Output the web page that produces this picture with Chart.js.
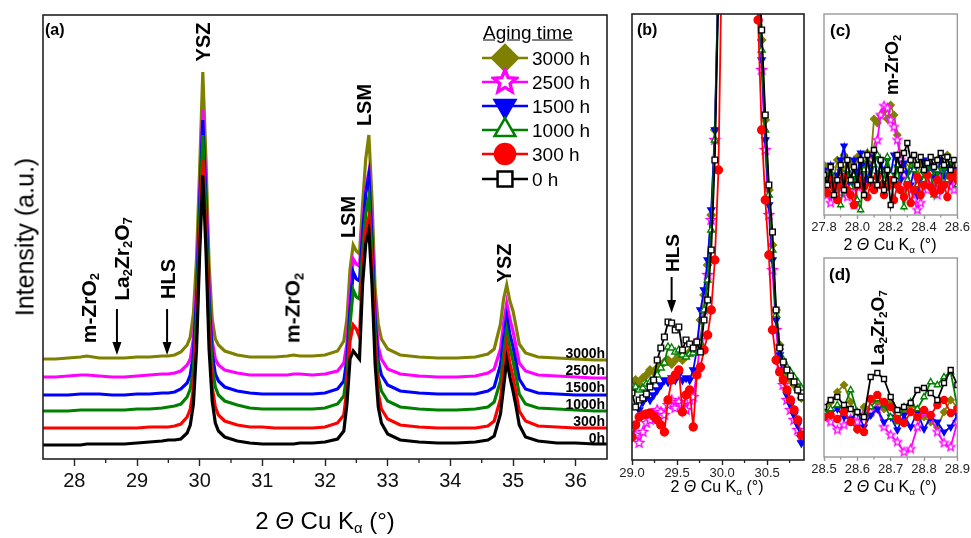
<!DOCTYPE html>
<html>
<head>
<meta charset="utf-8">
<title>XRD patterns vs aging time</title>
<script src="https://cdn.jsdelivr.net/npm/chart.js@4.4.1/dist/chart.umd.min.js"></script>
<style>
  body { margin: 0; background: #fff; }
  #wrap { position: relative; width: 971px; height: 538px; overflow: hidden; font-family: "Liberation Sans", Arial, sans-serif; color: #000; }
  #wrap canvas { position: absolute; }
  .t { position: absolute; white-space: nowrap; line-height: 1; }
  .rot { transform: translate(-50%, -50%) rotate(-90deg); }
  .ctr { transform: translate(-50%, -50%); }
  .rgt { transform: translate(-100%, -50%); }
  .lft { transform: translate(0, -50%); }
  .b { font-weight: bold; }
  sub { font-size: 0.62em; vertical-align: -0.3em; line-height: 0; }
</style>
</head>
<body>
<div id="wrap">
  <canvas id="cA" width="615" height="538" style="left:0;top:0"></canvas>
  <canvas id="cB" width="200" height="538" style="left:612px;top:0"></canvas>
  <canvas id="cC" width="171" height="258" style="left:800px;top:0"></canvas>
  <canvas id="cD" width="171" height="288" style="left:800px;top:250px"></canvas>
</div>
<script>
Chart.defaults.font.family = '"Liberation Sans", Arial, sans-serif';
Chart.defaults.color = '#111';

const NAMES = ['3000 h', '2500 h', '1500 h', '1000 h', '300 h', '0 h'];
const TAGS = ['3000h', '2500h', '1500h', '1000h', '300h', '0h'];

// (a) full patterns, traces offset upward with aging time
const X_A = [27.5, 27.7, 27.9, 28.1, 28.2, 28.4, 28.6, 28.8, 29.0, 29.2,
  29.4, 29.5, 29.6, 29.7, 29.8, 29.85, 29.9, 29.95, 30.0, 30.05,
  30.1, 30.15, 30.2, 30.25, 30.3, 30.4, 30.6, 30.8, 31.0, 31.2,
  31.4, 31.5, 31.6, 31.8, 32.0, 32.2, 32.3, 32.35, 32.4, 32.45,
  32.5, 32.55, 32.6, 32.65, 32.7, 32.75, 32.8, 32.85, 32.9, 33.0,
  33.2, 33.5, 33.8, 34.1, 34.4, 34.6, 34.7, 34.8, 34.85, 34.9,
  34.95, 35.0, 35.05, 35.1, 35.2, 35.4, 35.7, 36.0, 36.3, 36.5];
const A_3000 = [100, 100, 101, 102, 103, 101, 101, 101, 102, 102,
  103, 103, 104, 107, 114, 122, 145, 200, 290, 387,
  300, 195, 140, 120, 114, 108, 104, 102, 102, 102,
  103, 104, 103, 103, 104, 108, 118, 140, 190, 214,
  208, 205, 255, 300, 324, 260, 170, 135, 120, 110,
  104, 102, 101, 101, 102, 105, 110, 135, 160, 174,
  158, 148, 132, 115, 106, 102, 101, 100, 99, 99];
const A_2500 = [82, 82, 83, 84, 84, 83, 82, 82, 83, 84,
  85, 85, 86, 88, 94, 100, 120, 170, 260, 349,
  270, 170, 118, 100, 94, 89, 86, 84, 84, 84,
  84, 85, 85, 84, 85, 88, 96, 115, 165, 200,
  195, 193, 235, 270, 287, 230, 150, 112, 100, 90,
  85, 83, 82, 82, 83, 86, 90, 110, 135, 156,
  140, 128, 112, 96, 88, 84, 83, 82, 81, 81];
const A_1500 = [64, 64, 64, 65, 65, 65, 64, 64, 65, 65,
  66, 66, 67, 70, 76, 84, 105, 160, 255, 339,
  260, 160, 105, 85, 78, 72, 68, 66, 65, 65,
  65, 65, 65, 65, 66, 70, 78, 100, 150, 187,
  180, 178, 225, 265, 284, 220, 140, 98, 84, 74,
  68, 66, 65, 65, 65, 68, 72, 94, 120, 142,
  125, 112, 96, 80, 70, 66, 65, 64, 64, 64];
const A_1000 = [48, 48, 48, 49, 49, 49, 49, 49, 50, 50,
  51, 52, 53, 55, 62, 70, 90, 145, 240, 324,
  245, 145, 92, 72, 64, 58, 54, 51, 50, 50,
  50, 50, 50, 50, 51, 55, 63, 85, 135, 169,
  162, 160, 210, 245, 262, 205, 125, 82, 68, 58,
  52, 50, 49, 49, 50, 52, 57, 78, 105, 129,
  112, 98, 82, 65, 55, 51, 50, 49, 48, 48];
const A_300 = [31, 31, 31, 31, 31, 31, 31, 31, 31, 32,
  32, 32, 33, 35, 42, 50, 70, 125, 220, 299,
  225, 125, 72, 52, 44, 38, 34, 32, 32, 31,
  31, 31, 31, 31, 32, 36, 44, 70, 118, 134,
  130, 122, 190, 228, 242, 190, 110, 66, 50, 40,
  34, 32, 31, 31, 31, 33, 38, 60, 88, 114,
  96, 82, 66, 48, 38, 33, 32, 31, 31, 31];
const A_0 = [14, 14, 14, 14, 15, 15, 15, 15, 16, 17,
  18, 19, 19, 20, 26, 34, 55, 110, 205, 284,
  210, 110, 58, 36, 28, 22, 18, 16, 15, 15,
  15, 15, 16, 16, 17, 20, 28, 55, 100, 108,
  104, 100, 175, 215, 229, 175, 95, 52, 36, 25,
  19, 17, 16, 16, 17, 19, 23, 45, 72, 99,
  82, 68, 52, 34, 22, 18, 16, 16, 15, 15];

// (b) zoom on the YSZ foot, traces not offset
const X_B = [29.00, 29.04, 29.08, 29.12, 29.16, 29.20, 29.24, 29.28, 29.32, 29.36,
  29.40, 29.44, 29.48, 29.52, 29.56, 29.60, 29.64, 29.68, 29.72, 29.76,
  29.80, 29.84, 29.88, 29.92, 29.96, 30.00, 30.10, 30.20, 30.30, 30.40,
  30.44, 30.48, 30.52, 30.56, 30.60, 30.64, 30.68, 30.72, 30.76, 30.80,
  30.84, 30.88];
const B_3000 = [70, 80, 75, 82, 85, 90, 88, 92, 95, 98,
  100, 96, 100, 105, 100, 104, 108, 110, 118, 140,
  165, 195, 245, 330, 490, 900, 2600, 2600, 900, 510,
  420, 340, 270, 215, 150, 115, 95, 85, 80, 75,
  70, 62];
const B_2500 = [30, 25, 17, 28, 37, 40, 45, 50, 48, 45,
  55, 60, 52, 58, 55, 50, 60, 63, 87, 120,
  150, 185, 240, 320, 480, 900, 2600, 2600, 900, 470,
  390, 310, 245, 190, 130, 95, 75, 60, 50, 40,
  30, 23];
const B_1500 = [23, 35, 50, 58, 63, 60, 65, 70, 75, 80,
  78, 82, 80, 85, 80, 82, 80, 90, 110, 150,
  170, 200, 250, 330, 490, 900, 2600, 2600, 900, 480,
  400, 320, 255, 200, 140, 105, 80, 65, 55, 45,
  35, 17];
const B_1000 = [75, 73, 70, 72, 76, 78, 80, 85, 92, 97,
  113, 112, 108, 110, 105, 103, 106, 107, 110, 117,
  150, 180, 230, 320, 480, 900, 2600, 2600, 900, 500,
  410, 330, 265, 210, 145, 113, 100, 93, 88, 83,
  78, 72];
const B_300 = [23, 35, 43, 45, 46, 47, 44, 40, 35, 28,
  60, 80, 85, 90, 48, 65, 70, 33, 85, 93,
  110, 125, 150, 200, 290, 520, 2600, 2600, 900, 440,
  330, 260, 205, 130, 100, 88, 80, 70, 60, 50,
  40, 25];
const B_0 = [67, 53, 60, 62, 66, 73, 80, 100, 112, 123,
  138, 137, 130, 133, 110, 120, 116, 112, 118, 108,
  140, 160, 210, 300, 470, 900, 2600, 2600, 900, 520,
  430, 345, 275, 228, 150, 112, 98, 90, 84, 78,
  70, 63];

// (c) m-ZrO2 region
const X_C = [27.80, 27.82, 27.84, 27.86, 27.88, 27.90, 27.92, 27.94, 27.96, 27.98,
  28.00, 28.02, 28.04, 28.06, 28.08, 28.10, 28.12, 28.14, 28.16, 28.18,
  28.20, 28.22, 28.24, 28.26, 28.28, 28.30, 28.32, 28.34, 28.36, 28.38,
  28.40, 28.42, 28.44, 28.46, 28.48, 28.50, 28.52, 28.54, 28.56, 28.58,
  28.60];
const C_3000 = [50, 42, 48, 38, 55, 45, 60, 48, 52, 40, 58, 45, 50, 62, 55, 96, 92, 100, 104, 96,
  110, 100, 80, 60, 50, 42, 55, 48, 40, 52, 45, 38, 50, 42, 55, 45, 40, 60, 50, 45, 48];
const C_2500 = [30, 20, 12, 28, 35, 22, 30, 18, 25, 10, 28, 35, 40, 50, 55, 60, 75, 100, 109, 107,
  95, 88, 75, 55, 40, 30, 25, 15, 5, 12, 30, 25, 35, 28, 20, 35, 40, 30, 35, 25, 38];
const C_1500 = [45, 35, 50, 25, 40, 55, 69, 42, 30, 55, 40, 62, 50, 35, 48, 58, 40, 52, 45, 55,
  40, 60, 48, 35, 52, 42, 30, 45, 20, 38, 55, 45, 50, 38, 42, 55, 40, 48, 35, 45, 40];
const C_1000 = [38, 25, 42, 20, 30, 10, 35, 45, 28, 40, 15, 5, 45, 55, 38, 50, 60, 45, 35, 58,
  40, 30, 50, 25, 8, 35, 55, 45, 30, 40, 35, 50, 42, 20, 45, 30, 48, 35, 55, 40, 30];
const C_300 = [30, 22, 35, 28, 15, 30, 38, 25, 20, 10, 30, 35, 28, 18, 32, 25, 38, 30, 20, 28,
  35, 15, 30, 25, 18, 30, 12, 25, 38, 20, 30, 40, 28, 22, 35, 25, 30, 18, 38, 42, 35];
const C_0 = [40, 30, 48, 20, 35, 50, 25, 55, 35, 48, 30, 55, 20, 60, 35, 65, 30, 55, 25, 45,
  10, 35, 60, 45, 62, 72, 55, 60, 50, 58, 45, 52, 58, 48, 55, 62, 50, 58, 45, 55, 50];

// (d) La2Zr2O7 region
const X_D = [28.50, 28.52, 28.54, 28.56, 28.58, 28.60, 28.62, 28.64, 28.66, 28.68,
  28.70, 28.72, 28.74, 28.76, 28.78, 28.80, 28.82, 28.84, 28.86, 28.88, 28.90];
const D_3000 = [45, 55, 65, 72, 55, 27, 50, 42, 55, 48, 54, 38, 45, 52, 47, 40, 35, 30, 45, 57, 50];
const D_2500 = [40, 35, 27, 32, 38, 35, 42, 45, 48, 30, 22, 15, 5, 8, 30, 45, 40, 25, 14, 10, 35];
const D_1500 = [42, 44, 48, 40, 38, 45, 30, 42, 48, 35, 40, 27, 42, 30, 45, 28, 40, 35, 25, 30, 42];
const D_1000 = [45, 48, 52, 50, 67, 45, 40, 50, 58, 52, 40, 35, 50, 55, 48, 60, 75, 72, 80, 85, 50];
const D_300 = [40, 42, 38, 45, 35, 28, 25, 58, 62, 55, 50, 38, 34, 45, 40, 47, 42, 52, 57, 44, 48];
const D_0 = [50, 57, 60, 52, 48, 45, 40, 80, 84, 78, 60, 47, 50, 54, 67, 69, 64, 57, 74, 87, 72];

// tick positions
const TICKS_A = [28, 29, 30, 31, 32, 33, 34, 35, 36];
const MINOR_A = [28.5, 29.5, 30.5, 31.5, 32.5, 33.5, 34.5, 35.5];
const TICKS_B = [29.0, 29.5, 30.0, 30.5];
const MINOR_B = [29.25, 29.75, 30.25, 30.75];
const TICKS_C = [27.8, 28.0, 28.2, 28.4, 28.6];
const MINOR_C = [27.9, 28.1, 28.3, 28.5];
const TICKS_D = [28.5, 28.6, 28.7, 28.8, 28.9];
const MINOR_D = [28.55, 28.65, 28.75, 28.85];

// open star marker (Chart.js has no 5-point star)
function starImage(r, color) {
  const c = document.createElement('canvas');
  const s = Math.ceil(r * 2 + 4);
  c.width = s; c.height = s;
  const g = c.getContext('2d');
  g.beginPath();
  for (let i = 0; i < 10; i++) {
    const a = -Math.PI / 2 + i * Math.PI / 5;
    const rr = i % 2 ? r * 0.45 : r;
    g.lineTo(s / 2 + rr * Math.cos(a), s / 2 + rr * Math.sin(a));
  }
  g.closePath();
  g.fillStyle = '#fff';
  g.fill();
  g.lineWidth = Math.max(1.4, r / 3.5);
  g.strokeStyle = color;
  g.stroke();
  return c;
}

const STYLE = [
  { color: '#808000', fill: '#808000', point: 'rectRot', rot: 0 },
  { color: '#ff00ff', fill: '#ffffff', point: 'star', rot: 0 },
  { color: '#0000ff', fill: '#0000ff', point: 'triangle', rot: 180 },
  { color: '#008000', fill: '#ffffff', point: 'triangle', rot: 0 },
  { color: '#ff0000', fill: '#ff0000', point: 'circle', rot: 0 },
  { color: '#000000', fill: '#ffffff', point: 'rect', rot: 0 }
];

function buildSets(xs, sets, star, extra) {
  return sets.map((ys, i) => Object.assign({
    label: NAMES[i],
    data: xs.map((x, j) => ({ x: x, y: ys[j] })),
    borderColor: STYLE[i].color,
    backgroundColor: STYLE[i].fill,
    pointStyle: STYLE[i].point === 'star' ? star : STYLE[i].point,
    pointRotation: STYLE[i].rot,
    pointBorderColor: STYLE[i].color,
    pointBackgroundColor: STYLE[i].fill,
    pointBorderWidth: 1.4,
    tension: 0
  }, extra)).reverse(); // 0 h drawn on top
}

// frame, minor ticks and arrows
const decoPlugin = {
  id: 'deco',
  afterDraw(chart, args, opts) {
    const ctx = chart.ctx;
    const a = chart.chartArea;
    const x = chart.scales.x, y = chart.scales.y;
    ctx.save();
    ctx.strokeStyle = opts.color;
    ctx.lineWidth = 1.3;
    (opts.minor || []).forEach(v => {
      const px = x.getPixelForValue(v);
      ctx.beginPath();
      ctx.moveTo(px, a.bottom);
      ctx.lineTo(px, a.bottom + opts.minorLen);
      ctx.stroke();
    });
    ctx.lineWidth = opts.width;
    ctx.strokeRect(a.left, a.top, a.right - a.left, a.bottom - a.top);
    (opts.arrows || []).forEach(ar => {
      const px = x.getPixelForValue(ar.x);
      const y1 = y.getPixelForValue(ar.from), y2 = y.getPixelForValue(ar.to);
      ctx.strokeStyle = '#000';
      ctx.fillStyle = '#000';
      ctx.lineWidth = 2;
      ctx.beginPath();
      ctx.moveTo(px, y1);
      ctx.lineTo(px, y2 - 8);
      ctx.stroke();
      ctx.beginPath();
      ctx.moveTo(px - 4.5, y2 - 13);
      ctx.lineTo(px + 4.5, y2 - 13);
      ctx.lineTo(px, y2);
      ctx.closePath();
      ctx.fill();
    });
    ctx.restore();
  }
};

const starBig = starImage(12, '#ff00ff');
const LEG_ROWS = [58, 82, 106, 130, 154, 179];
const LEG_SIZE = [13, 12, 12, 12, 10, 10.5];
const legendPlugin = {
  id: 'agingLegend',
  afterDraw(chart) {
    const ctx = chart.ctx;
    ctx.save();
    LEG_ROWS.forEach((ry, i) => {
      const st = STYLE[i];
      ctx.strokeStyle = st.color;
      ctx.lineWidth = 2.5;
      ctx.beginPath();
      ctx.moveTo(482, ry);
      ctx.lineTo(528, ry);
      ctx.stroke();
      ctx.fillStyle = st.fill;
      ctx.lineWidth = 2.5;
      Chart.helpers.drawPoint(ctx, {
        pointStyle: st.point === 'star' ? starBig : st.point,
        rotation: st.rot,
        radius: LEG_SIZE[i],
        borderWidth: 2.5
      }, 505, ry);
    });
    ctx.restore();
  }
};

function makeChart(id, sets, cfg) {
  return new Chart(document.getElementById(id), {
    type: 'line',
    data: { datasets: sets },
    options: {
      responsive: false,
      animation: false,
      events: [],
      layout: { padding: cfg.pad },
      plugins: { legend: { display: false }, tooltip: { enabled: false }, deco: cfg.deco },
      scales: {
        x: {
          type: 'linear',
          min: cfg.xmin,
          max: cfg.xmax,
          afterBuildTicks: s => { s.ticks = cfg.ticks.map(v => ({ value: v })); },
          afterFit: s => { s.height = cfg.axisH; },
          ticks: { callback: cfg.fmt, font: { size: cfg.tickFont }, color: cfg.tickColor, padding: cfg.tickPad, maxRotation: 0, autoSkip: false },
          grid: { drawOnChartArea: false, tickLength: cfg.tickLen, tickColor: cfg.deco.color, tickWidth: 1.4 },
          border: { display: false }
        },
        y: { display: false, min: 0, max: cfg.ymax }
      }
    },
    plugins: cfg.plugins
  });
}

const starSmall = starImage(5, '#ff00ff');

const chartA = makeChart('cA',
  buildSets(X_A, [A_3000, A_2500, A_1500, A_1000, A_300, A_0], starSmall, { borderWidth: 3.2, pointRadius: 0 }),
  { pad: { left: 43, top: 15, right: 8, bottom: 43 }, xmin: 27.5, xmax: 36.5, ymax: 444, ticks: TICKS_A,
    fmt: v => String(v), tickFont: 20, tickColor: '#111', tickPad: 3, tickLen: 7, axisH: 36,
    deco: { color: '#222', width: 1.6, minor: MINOR_A, minorLen: 4,
      arrows: [{ x: 28.68, from: 150, to: 104 }, { x: 29.48, from: 150, to: 104 }] },
    plugins: [decoPlugin, legendPlugin] });

const chartB = makeChart('cB',
  buildSets(X_B, [B_3000, B_2500, B_1500, B_1000, B_300, B_0], starSmall, { borderWidth: 1.8, pointRadius: 4 }),
  { pad: { left: 20, top: 14, right: 8, bottom: 48 }, xmin: 29.0, xmax: 30.91, ymax: 446, ticks: TICKS_B,
    fmt: v => v.toFixed(1), tickFont: 13, tickColor: '#222', tickPad: 1, tickLen: 5, axisH: 30,
    deco: { color: '#222', width: 1.6, minor: MINOR_B, minorLen: 3,
      arrows: [{ x: 29.44, from: 183, to: 147 }] },
    plugins: [decoPlugin] });

const starTiny = starImage(4.5, '#ff00ff');
const chartC = makeChart('cC',
  buildSets(X_C, [C_3000, C_2500, C_1500, C_1000, C_300, C_0], starTiny, { borderWidth: 1.8, pointRadius: 3.5 }),
  { pad: { left: 24, top: 14, right: 13, bottom: 18 }, xmin: 27.8, xmax: 28.6, ymax: 201, ticks: TICKS_C,
    fmt: v => v.toFixed(1), tickFont: 13, tickColor: '#222', tickPad: 1, tickLen: 4, axisH: 25,
    deco: { color: '#999', width: 1.4, minor: MINOR_C, minorLen: 2.5 },
    plugins: [decoPlugin] });

const chartD = makeChart('cD',
  buildSets(X_D, [D_3000, D_2500, D_1500, D_1000, D_300, D_0], starTiny, { borderWidth: 1.8, pointRadius: 3.5 }),
  { pad: { left: 24, top: 8, right: 13, bottom: 56 }, xmin: 28.5, xmax: 28.9, ymax: 199, ticks: TICKS_D,
    fmt: v => v.toFixed(1), tickFont: 13, tickColor: '#222', tickPad: 1, tickLen: 4, axisH: 25,
    deco: { color: '#999', width: 1.4, minor: MINOR_D, minorLen: 2.5 },
    plugins: [decoPlugin] });

// text overlays
const wrap = document.getElementById('wrap');
function addText(html, left, top, cls, css) {
  const el = document.createElement('div');
  el.className = 't ' + cls;
  el.innerHTML = html;
  el.style.left = left + 'px';
  el.style.top = top + 'px';
  if (css) el.style.cssText += css;
  wrap.appendChild(el);
}
function addAt(chart, off, x, y, html, cls, css) {
  addText(html, off[0] + chart.scales.x.getPixelForValue(x), off[1] + chart.scales.y.getPixelForValue(y), cls, css);
}

const XTITLE = '2 <i>&Theta;</i> Cu K<sub>&alpha;</sub> (&deg;)';
const MZRO2 = 'm-ZrO<sub>2</sub>';
const LZO = 'La<sub>2</sub>Zr<sub>2</sub>O<sub>7</sub>';

// (a)
const offA = [0, 0];
addAt(chartA, offA, 30.05, 417, 'YSZ', 'rot b', 'font-size:20px');
addAt(chartA, offA, 32.63, 354, 'LSM', 'rot b', 'font-size:20px');
addAt(chartA, offA, 32.37, 242, 'LSM', 'rot b', 'font-size:20px');
addAt(chartA, offA, 34.86, 196, 'YSZ', 'rot b', 'font-size:20px');
addAt(chartA, offA, 28.22, 151, MZRO2, 'rot b', 'font-size:21px');
addAt(chartA, offA, 28.74, 200, LZO, 'rot b', 'font-size:21px');
addAt(chartA, offA, 29.49, 180, 'HLS', 'rot b', 'font-size:20px');
addAt(chartA, offA, 31.47, 151, MZRO2, 'rot b', 'font-size:21px');
const TAG_Y = [106, 89, 72, 55, 38, 21];
TAGS.forEach((t, i) => addAt(chartA, offA, 36.47, TAG_Y[i], t, 'rgt b', 'font-size:14px'));
addText('(a)', 45, 30, 'lft b', 'font-size:16px');
addText('Aging time', 483, 32, 'lft', 'font-size:19px;text-decoration:underline');
NAMES.forEach((n, i) => addText(n, 532, LEG_ROWS[i], 'lft', 'font-size:19px'));
addText(XTITLE, 325, 521, 'ctr', 'font-size:24px');
addText('Intensity (a.u.)', 25, 237, 'rot', 'font-size:25px');

// (b)
const offB = [612, 0];
addAt(chartB, offB, 29.44, 207, 'HLS', 'rot b', 'font-size:19px');
addText('(b)', 637, 30, 'lft b', 'font-size:16px');
addText(XTITLE, 717, 487, 'ctr', 'font-size:16px');

// (c)
const offC = [800, 0];
addAt(chartC, offC, 28.21, 150, MZRO2, 'rot b', 'font-size:18px');
addText('(c)', 830, 30, 'lft b', 'font-size:17px');
addText(XTITLE, 890, 245, 'ctr', 'font-size:16px');

// (d)
const offD = [800, 250];
addAt(chartD, offD, 28.66, 129, LZO, 'rot b', 'font-size:19px');
addText('(d)', 829, 274, 'lft b', 'font-size:17px');
addText(XTITLE, 890, 487, 'ctr', 'font-size:16px');
</script>
</body>
</html>
